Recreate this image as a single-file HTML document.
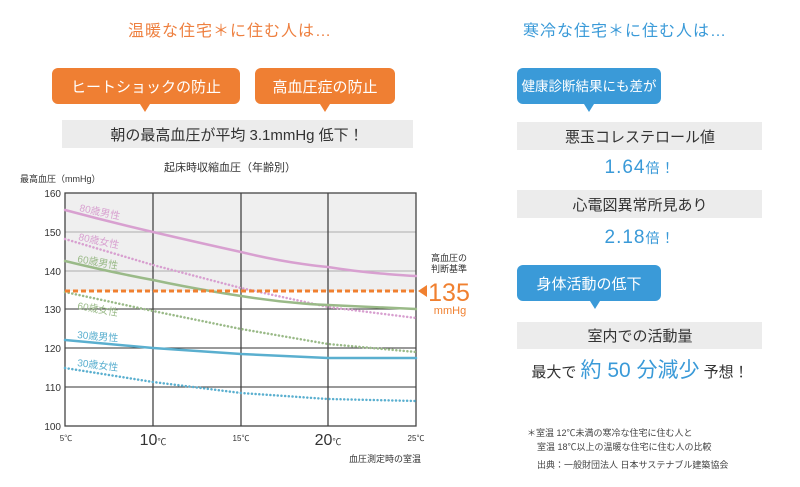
<!DOCTYPE html>
<html><head><meta charset="utf-8"><style>
html,body{margin:0;padding:0;background:#fff;}
svg{display:block;font-family:"Liberation Sans","Noto Sans CJK JP",sans-serif;}
</style></head><body>
<svg width="800" height="487" viewBox="0 0 800 487" xmlns="http://www.w3.org/2000/svg">
<!-- Left header -->
<text x="230" y="36" font-size="16" fill="#ee8040" text-anchor="middle" letter-spacing="1">温暖な住宅＊に住む人は…</text>
<rect x="52" y="68" width="188" height="36" rx="6" fill="#ef7f33"/>
<polygon points="140,104 150,104 145,112" fill="#ef7f33"/>
<text x="146" y="92" font-size="15" fill="#fff" text-anchor="middle">ヒートショックの防止</text>
<rect x="255" y="68" width="140" height="36" rx="6" fill="#ef7f33"/>
<polygon points="320,104 330,104 325,112" fill="#ef7f33"/>
<text x="325" y="92" font-size="15" fill="#fff" text-anchor="middle">高血圧症の防止</text>
<rect x="62" y="120" width="351" height="28" fill="#ececec"/>
<text x="237" y="140" font-size="15" fill="#333" text-anchor="middle">朝の最高血圧が平均 3.1mmHg 低下！</text>

<!-- chart -->
<text x="230" y="171" font-size="11" fill="#333" text-anchor="middle">起床時収縮血圧（年齢別）</text>
<text x="20" y="182" font-size="9" fill="#333">最高血圧（mmHg）</text>
<rect x="65" y="193" width="351" height="98" fill="#efefef"/>
<g stroke="#bbb" stroke-width="1.3">
<line x1="65" y1="232" x2="416" y2="232"/>
<line x1="65" y1="271" x2="416" y2="271"/>
</g>
<g stroke="#333" stroke-width="1">
<line x1="65" y1="309" x2="416" y2="309"/>
<line x1="65" y1="348" x2="416" y2="348"/>
<line x1="65" y1="387" x2="416" y2="387"/>
</g>
<g stroke="#444" stroke-width="1.3">
<line x1="153" y1="193" x2="153" y2="426"/>
<line x1="241" y1="193" x2="241" y2="426"/>
<line x1="328" y1="193" x2="328" y2="426"/>
</g>
<rect x="65" y="193" width="351" height="233" fill="none" stroke="#444" stroke-width="1.3"/>
<g font-size="10" fill="#333" text-anchor="end">
<text x="61" y="197">160</text><text x="61" y="236">150</text><text x="61" y="275">140</text>
<text x="61" y="313">130</text><text x="61" y="352">120</text><text x="61" y="391">110</text><text x="61" y="430">100</text>
</g>
<g fill="#333" text-anchor="middle">
<text x="66" y="441" font-size="8">5℃</text>
<text x="153" y="445" font-size="16">10<tspan font-size="9">℃</tspan></text>
<text x="241" y="441" font-size="8">15℃</text>
<text x="328" y="445" font-size="16">20<tspan font-size="9">℃</tspan></text>
<text x="416" y="441" font-size="8">25℃</text>
</g>
<text x="421" y="462" font-size="9" fill="#333" text-anchor="end">血圧測定時の室温</text>

<!-- curves -->
<g fill="none" stroke-linecap="round">
<path d="M65,210 C110,222 153,232 153,232 C200,243 241,252 241,252 C290,264 328,267 328,267 C370,274 416,276 416,276" stroke="#d8a0d0" stroke-width="2.5"/>
<path d="M65,239 L153,265 L241,288 L328,307 L416,318" stroke="#d8a0d0" stroke-width="2.5" stroke-dasharray="0.1,3.6"/>
<path d="M65,261 C110,272 153,280 153,280 C200,290 241,296 241,296 C290,304 328,305 328,305 L416,309" stroke="#9aba88" stroke-width="2.5"/>
<path d="M65,292 L153,311 L241,329 L328,344 L416,352" stroke="#9aba88" stroke-width="2.5" stroke-dasharray="0.1,3.6"/>
<path d="M65,340 L153,348 L241,354 L328,358 L416,358" stroke="#5aafcf" stroke-width="2.5"/>
<path d="M65,368 L153,382 L241,393 L328,399 L416,401" stroke="#5aafcf" stroke-width="2.5" stroke-dasharray="0.1,3.6"/>
</g>
<line x1="65" y1="291" x2="416" y2="291" stroke="#f08030" stroke-width="3" stroke-dasharray="5,3"/>
<polygon points="418,291 427,285 427,297" fill="#f08030"/>
<g font-size="10">
<text x="79" y="211" fill="#d8a0d0" transform="rotate(12 79 211)">80歳男性</text>
<text x="78" y="240" fill="#d8a0d0" transform="rotate(12 78 240)">80歳女性</text>
<text x="77" y="262" fill="#9aba88" transform="rotate(10 77 262)">60歳男性</text>
<text x="77" y="309" fill="#9aba88" transform="rotate(10 77 309)">60歳女性</text>
<text x="77" y="338" fill="#5aafcf" transform="rotate(5 77 338)">30歳男性</text>
<text x="77" y="366" fill="#5aafcf" transform="rotate(7 77 366)">30歳女性</text>
</g>
<text x="449" y="261" font-size="9" fill="#333" text-anchor="middle">高血圧の</text>
<text x="449" y="272" font-size="9" fill="#333" text-anchor="middle">判断基準</text>
<text x="449" y="301" font-size="25" fill="#f08030" text-anchor="middle">135</text>
<text x="450" y="314" font-size="11" fill="#f08030" text-anchor="middle">mmHg</text>

<!-- Right -->
<text x="625" y="36" font-size="16" fill="#3a9ad8" text-anchor="middle" letter-spacing="1">寒冷な住宅＊に住む人は…</text>
<rect x="517" y="68" width="144" height="36" rx="6" fill="#3a9ad8"/>
<polygon points="584,104 594,104 589,112" fill="#3a9ad8"/>
<text x="589" y="91" font-size="13.5" fill="#fff" text-anchor="middle">健康診断結果にも差が</text>
<rect x="517" y="122" width="245" height="28" fill="#ececec"/>
<text x="640" y="142" font-size="15" fill="#333" text-anchor="middle">悪玉コレステロール値</text>
<text x="640" y="173" font-size="19" fill="#3a9ad8" text-anchor="middle" letter-spacing="1">1.64<tspan font-size="14">倍！</tspan></text>
<rect x="517" y="190" width="245" height="28" fill="#ececec"/>
<text x="640" y="210" font-size="15" fill="#333" text-anchor="middle">心電図異常所見あり</text>
<text x="640" y="243" font-size="19" fill="#3a9ad8" text-anchor="middle" letter-spacing="1">2.18<tspan font-size="14">倍！</tspan></text>
<rect x="517" y="265" width="144" height="36" rx="6" fill="#3a9ad8"/>
<polygon points="590,301 600,301 595,309" fill="#3a9ad8"/>
<text x="589" y="289" font-size="15" fill="#fff" text-anchor="middle">身体活動の低下</text>
<rect x="517" y="322" width="245" height="27" fill="#ececec"/>
<text x="640" y="341" font-size="15" fill="#333" text-anchor="middle">室内での活動量</text>
<text x="640" y="377" font-size="15" fill="#333" text-anchor="middle">最大で <tspan font-size="21" fill="#3a9ad8">約 50 分減少</tspan> 予想！</text>
<g font-size="9" fill="#444">
<text x="527" y="436">＊室温 12℃未満の寒冷な住宅に住む人と</text>
<text x="537" y="450">室温 18℃以上の温暖な住宅に住む人の比較</text>
<text x="537" y="468">出典：一般財団法人 日本サステナブル建築協会</text>
</g>
</svg>
</body></html>
